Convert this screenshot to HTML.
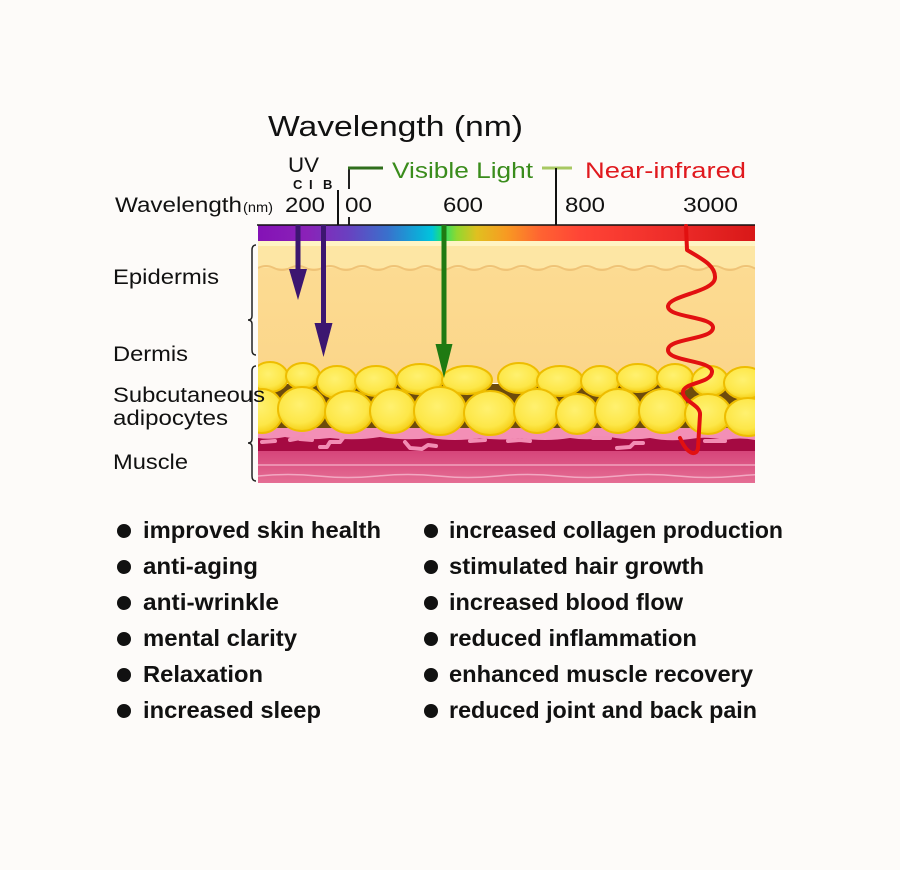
<!DOCTYPE html>
<html><head><meta charset="utf-8"><style>
html,body{margin:0;padding:0;background:#fdfbf9;}
svg{display:block;}
text{font-family:"Liberation Sans",Arial,sans-serif;}
</style></head><body>
<svg width="900" height="870" viewBox="0 0 900 870" xmlns="http://www.w3.org/2000/svg">
<defs>
<linearGradient id="spec" x1="258" y1="0" x2="755" y2="0" gradientUnits="userSpaceOnUse">
<stop offset="0" stop-color="#8412b6"/>
<stop offset="0.1" stop-color="#8a22b8"/>
<stop offset="0.18" stop-color="#6a40c0"/>
<stop offset="0.26" stop-color="#3a70cc"/>
<stop offset="0.32" stop-color="#10a8d8"/>
<stop offset="0.35" stop-color="#00c4dc"/>
<stop offset="0.37" stop-color="#20e070"/>
<stop offset="0.4" stop-color="#90d830"/>
<stop offset="0.44" stop-color="#e0c020"/>
<stop offset="0.5" stop-color="#f89a22"/>
<stop offset="0.57" stop-color="#ff6232"/>
<stop offset="0.65" stop-color="#ff4436"/>
<stop offset="0.85" stop-color="#ec2a28"/>
<stop offset="1" stop-color="#d81818"/>
</linearGradient>
<linearGradient id="derm" x1="0" y1="268" x2="0" y2="372" gradientUnits="userSpaceOnUse">
<stop offset="0" stop-color="#fcdb92"/>
<stop offset="1" stop-color="#fbd68a"/>
</linearGradient>
<linearGradient id="musc" x1="0" y1="451" x2="0" y2="483" gradientUnits="userSpaceOnUse">
<stop offset="0" stop-color="#d6457a"/>
<stop offset="1" stop-color="#e56e94"/>
</linearGradient>
<radialGradient id="cell" cx="0.45" cy="0.4" r="0.6">
<stop offset="0" stop-color="#fff170"/>
<stop offset="0.7" stop-color="#fde748"/>
<stop offset="1" stop-color="#f5cf18"/>
</radialGradient>
<clipPath id="skin"><rect x="258" y="241" width="497" height="242"/></clipPath>
</defs>

<rect width="900" height="870" fill="#fdfbf9"/>

<!-- Title -->
<text x="268" y="136" font-size="29" fill="#111" textLength="255" lengthAdjust="spacingAndGlyphs">Wavelength (nm)</text>

<!-- UV labels -->
<text x="288" y="172" font-size="21" fill="#111" textLength="31" lengthAdjust="spacingAndGlyphs">UV</text>
<text x="293" y="189" font-size="13" font-weight="bold" fill="#111">C</text>
<text x="309" y="189" font-size="13" font-weight="bold" fill="#111">I</text>
<text x="323" y="189" font-size="13" font-weight="bold" fill="#111">B</text>

<text x="115" y="212" font-size="21" fill="#111" textLength="127" lengthAdjust="spacingAndGlyphs">Wavelength</text>
<text x="243" y="212" font-size="14" fill="#111" textLength="30" lengthAdjust="spacingAndGlyphs">(nm)</text>
<text x="285" y="212" font-size="21" fill="#111" textLength="40" lengthAdjust="spacingAndGlyphs">200</text>
<text x="345" y="212" font-size="21" fill="#111" textLength="27" lengthAdjust="spacingAndGlyphs">00</text>
<text x="443" y="212" font-size="21" fill="#111" textLength="40" lengthAdjust="spacingAndGlyphs">600</text>
<text x="565" y="212" font-size="21" fill="#111" textLength="40" lengthAdjust="spacingAndGlyphs">800</text>
<text x="683" y="212" font-size="21" fill="#111" textLength="55" lengthAdjust="spacingAndGlyphs">3000</text>

<text x="392" y="178" font-size="22" fill="#3a8c1c" textLength="141" lengthAdjust="spacingAndGlyphs">Visible Light</text>
<text x="585" y="178" font-size="22" fill="#e0191e" textLength="161" lengthAdjust="spacingAndGlyphs">Near-infrared</text>

<!-- ticks / markers -->
<line x1="338" y1="190" x2="338" y2="225" stroke="#111" stroke-width="2"/>
<line x1="349" y1="167" x2="349" y2="189" stroke="#222" stroke-width="2"/>
<line x1="348" y1="168" x2="383" y2="168" stroke="#2f6e1c" stroke-width="3"/>
<line x1="349" y1="217" x2="349" y2="225" stroke="#222" stroke-width="2"/>
<line x1="542" y1="168" x2="572" y2="168" stroke="#a8c862" stroke-width="3"/>
<line x1="556" y1="168" x2="556" y2="225" stroke="#111" stroke-width="2"/>

<!-- spectrum -->
<rect x="258" y="225" width="497" height="16" fill="url(#spec)"/>
<line x1="257" y1="225" x2="755" y2="225" stroke="#111" stroke-width="1.5"/>

<!-- skin -->
<g clip-path="url(#skin)">
<rect x="258" y="241" width="497" height="5" fill="#fff4c4"/>
<rect x="258" y="246" width="497" height="23" fill="#fde6a4"/>
<rect x="258" y="268" width="497" height="115" fill="url(#derm)"/>
<path d="M258,268 q8,-4 16,0 t16,0 t16,0 t16,0 t16,0 t16,0 t16,0 t16,0 t16,0 t16,0 t16,0 t16,0 t16,0 t16,0 t16,0 t16,0 t16,0 t16,0 t16,0 t16,0 t16,0 t16,0 t16,0 t16,0 t16,0 t16,0 t16,0 t16,0 t16,0 t16,0 t16,0 t16,0" fill="none" stroke="#efc377" stroke-width="2"/>

<rect x="258" y="384" width="497" height="48" fill="#6e4c0c"/>
<rect x="258" y="430" width="497" height="22" fill="#a50a42"/>
<rect x="258" y="451" width="497" height="32" fill="url(#musc)"/>
<line x1="258" y1="465" x2="755" y2="465" stroke="#f2a2bd" stroke-width="1.5"/>
<path d="M258,476 q30,-3 60,0 t60,0 t60,0 t60,0 t60,0 t60,0 t60,0 t60,0 t60,0" fill="none" stroke="#f2a8c2" stroke-width="1.5"/>

<!-- pink band -->
<path d="M258,428 L755,428 L755,440 Q740,437 725,440 Q705,436 690,439 Q670,442 650,438 Q630,441 610,437 Q590,441 570,438 Q545,442 520,438 Q500,441 480,438 Q455,442 430,438 Q405,441 380,437 Q355,441 330,438 Q305,441 285,437 Q270,440 258,438 Z" fill="#f38fb6"/>
<!-- capillaries -->
<g fill="none" stroke="#f28db4" stroke-width="4" stroke-linecap="round" stroke-linejoin="round">
<path d="M290,440 L300,438 L303,435 M300,439 L312,440"/>
<path d="M320,447 L327,447 L330,442 L340,442 L343,438"/>
<path d="M405,442 L410,448 L422,449 L428,445 L436,446"/>
<path d="M508,441 L520,440 L530,441"/>
<path d="M593,438 L610,438"/>
<path d="M617,448 L630,447 L634,443 L643,443"/>
<path d="M262,442 L275,441"/>
<path d="M470,441 L485,440"/>
<path d="M705,441 L725,441"/>
</g>

<!-- fat cells row 1 -->
<g fill="url(#cell)" stroke="#eebd00" stroke-width="2">
<ellipse cx="270" cy="377" rx="18" ry="15"/>
<ellipse cx="303" cy="376" rx="17" ry="13"/>
<ellipse cx="337" cy="382" rx="20" ry="16"/>
<ellipse cx="376" cy="381" rx="21" ry="15"/>
<ellipse cx="420" cy="379" rx="23" ry="15"/>
<ellipse cx="467" cy="380" rx="25" ry="14"/>
<ellipse cx="519" cy="378" rx="21" ry="15"/>
<ellipse cx="560" cy="381" rx="23" ry="15"/>
<ellipse cx="600" cy="381" rx="19" ry="15"/>
<ellipse cx="638" cy="378" rx="21" ry="14"/>
<ellipse cx="675" cy="378" rx="18" ry="14"/>
<ellipse cx="710" cy="381" rx="18" ry="15"/>
<ellipse cx="745" cy="383" rx="21" ry="16"/>
</g>
<!-- fat cells row 2 -->
<g fill="url(#cell)" stroke="#eebd00" stroke-width="2">
<ellipse cx="262" cy="411" rx="21" ry="22"/>
<ellipse cx="302" cy="409" rx="24" ry="22"/>
<ellipse cx="349" cy="412" rx="24" ry="21"/>
<ellipse cx="393" cy="411" rx="23" ry="22"/>
<ellipse cx="440" cy="411" rx="26" ry="24"/>
<ellipse cx="490" cy="413" rx="26" ry="22"/>
<ellipse cx="537" cy="411" rx="23" ry="22"/>
<ellipse cx="577" cy="414" rx="21" ry="20"/>
<ellipse cx="618" cy="411" rx="23" ry="22"/>
<ellipse cx="663" cy="411" rx="24" ry="22"/>
<ellipse cx="708" cy="414" rx="23" ry="20"/>
<ellipse cx="748" cy="417" rx="23" ry="19"/>
</g>
</g>

<!-- arrows -->
<line x1="298" y1="225" x2="298" y2="274" stroke="#3c1670" stroke-width="5"/>
<polygon points="289,269 307,269 298,300" fill="#3c1670"/>
<line x1="323.5" y1="225" x2="323.5" y2="328" stroke="#3c1670" stroke-width="5"/>
<polygon points="314.5,323 332.5,323 323.5,357" fill="#3c1670"/>
<line x1="444" y1="225" x2="444" y2="348" stroke="#1f7a12" stroke-width="5"/>
<polygon points="435.5,344 452.5,344 444,378" fill="#1f7a12"/>

<!-- red wave -->
<path d="M686,226 L687,250 C700,258 716,265 715,278 C714,292 670,295 668,306 C667,318 714,316 713,328 C712,340 668,338 668,350 C668,362 713,360 712,372 C711,384 682,382 683,393 C684,402 701,405 700,415 L698,448 C697,456 688,456 680,438" fill="none" stroke="#e21010" stroke-width="4" stroke-linecap="round" stroke-linejoin="round"/>

<!-- brackets -->
<path d="M256,245 Q252,245 252,250 L252,316 Q252,320 248,320 Q252,320 252,324 L252,350 Q252,355 256,355" fill="none" stroke="#222" stroke-width="1.5"/>
<path d="M256,366 Q252,366 252,371 L252,439 Q252,443 248,443 Q252,443 252,447 L252,476 Q252,481 256,481" fill="none" stroke="#222" stroke-width="1.5"/>

<!-- layer labels -->
<text x="113" y="284" font-size="21" fill="#111" textLength="106" lengthAdjust="spacingAndGlyphs">Epidermis</text>
<text x="113" y="361" font-size="21" fill="#111" textLength="75" lengthAdjust="spacingAndGlyphs">Dermis</text>
<text x="113" y="402" font-size="21" fill="#111" textLength="152" lengthAdjust="spacingAndGlyphs">Subcutaneous</text>
<text x="113" y="425" font-size="21" fill="#111" textLength="115" lengthAdjust="spacingAndGlyphs">adipocytes</text>
<text x="113" y="469" font-size="21" fill="#111" textLength="75" lengthAdjust="spacingAndGlyphs">Muscle</text>

<!-- bullet list -->
<g fill="#111">
<circle cx="124" cy="531" r="7"/>
<circle cx="124" cy="567" r="7"/>
<circle cx="124" cy="603" r="7"/>
<circle cx="124" cy="639" r="7"/>
<circle cx="124" cy="675" r="7"/>
<circle cx="124" cy="711" r="7"/>
<circle cx="431" cy="531" r="7"/>
<circle cx="431" cy="567" r="7"/>
<circle cx="431" cy="603" r="7"/>
<circle cx="431" cy="639" r="7"/>
<circle cx="431" cy="675" r="7"/>
<circle cx="431" cy="711" r="7"/>
</g>
<g font-size="23" font-weight="bold" fill="#111">
<text x="143" y="538" textLength="238" lengthAdjust="spacingAndGlyphs">improved skin health</text>
<text x="143" y="574" textLength="115" lengthAdjust="spacingAndGlyphs">anti-aging</text>
<text x="143" y="610" textLength="136" lengthAdjust="spacingAndGlyphs">anti-wrinkle</text>
<text x="143" y="646" textLength="154" lengthAdjust="spacingAndGlyphs">mental clarity</text>
<text x="143" y="682" textLength="120" lengthAdjust="spacingAndGlyphs">Relaxation</text>
<text x="143" y="718" textLength="178" lengthAdjust="spacingAndGlyphs">increased sleep</text>
<text x="449" y="538" textLength="334" lengthAdjust="spacingAndGlyphs">increased collagen production</text>
<text x="449" y="574" textLength="255" lengthAdjust="spacingAndGlyphs">stimulated hair growth</text>
<text x="449" y="610" textLength="234" lengthAdjust="spacingAndGlyphs">increased blood flow</text>
<text x="449" y="646" textLength="248" lengthAdjust="spacingAndGlyphs">reduced inflammation</text>
<text x="449" y="682" textLength="304" lengthAdjust="spacingAndGlyphs">enhanced muscle recovery</text>
<text x="449" y="718" textLength="308" lengthAdjust="spacingAndGlyphs">reduced joint and back pain</text>
</g>
</svg>
</body></html>
